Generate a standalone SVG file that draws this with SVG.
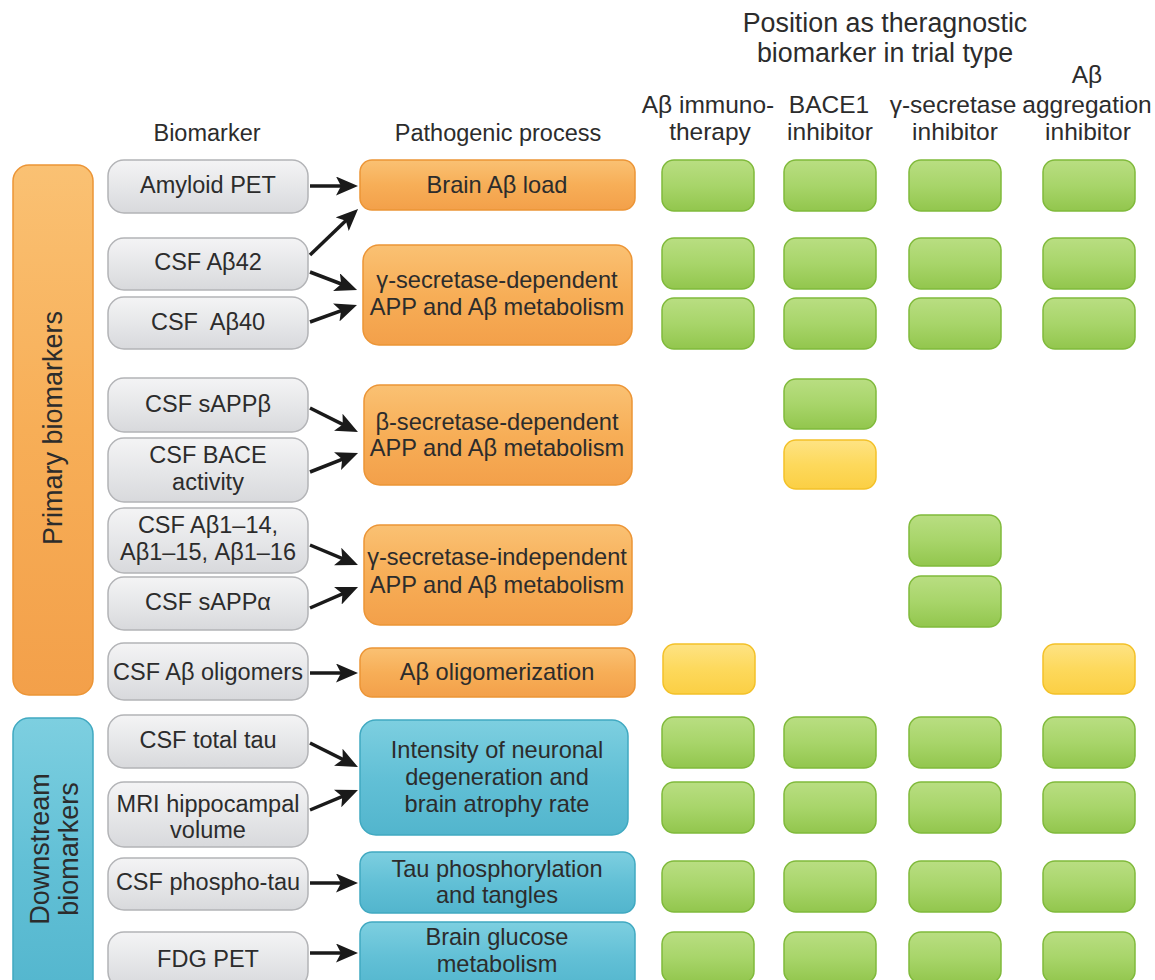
<svg xmlns="http://www.w3.org/2000/svg" width="1155" height="980" viewBox="0 0 1155 980">
<style>
text{font-family:"Liberation Sans",Arial,sans-serif;fill:#2c2c2c;text-anchor:middle;white-space:pre}
.hd{font-size:26.8px}
.ch{font-size:24.5px}
.bt{font-size:23.5px}
.pt{font-size:23.6px}
.side{font-size:27px}
.gray{fill:url(#gGray);stroke:#b3b4b7;stroke-width:1.5}
.orange{fill:url(#gOrange);stroke:#ec9536;stroke-width:1.5}
.blue{fill:url(#gBlue);stroke:#40a9c1;stroke-width:1.5}
.green{fill:url(#gGreen);stroke:#80ba3b;stroke-width:1.5}
.yellow{fill:url(#gYellow);stroke:#f3c128;stroke-width:1.5}
.arr{stroke:#1a1a1a;stroke-width:3.5;fill:none;marker-end:url(#ah)}
</style>
<defs>
<linearGradient id="gGray" x1="0" y1="0" x2="0" y2="1"><stop offset="0" stop-color="#f4f4f5"/><stop offset="0.5" stop-color="#e6e7e9"/><stop offset="1" stop-color="#d8d9dc"/></linearGradient>
<linearGradient id="gOrange" x1="0" y1="0" x2="0" y2="1"><stop offset="0" stop-color="#fac173"/><stop offset="0.5" stop-color="#f7ae57"/><stop offset="1" stop-color="#f3a04a"/></linearGradient>
<linearGradient id="gBlue" x1="0" y1="0" x2="0" y2="1"><stop offset="0" stop-color="#7dcfe0"/><stop offset="0.5" stop-color="#62c0d6"/><stop offset="1" stop-color="#52b5cd"/></linearGradient>
<linearGradient id="gGreen" x1="0" y1="0" x2="0" y2="1"><stop offset="0" stop-color="#b9de82"/><stop offset="0.5" stop-color="#a8d56a"/><stop offset="1" stop-color="#92c64d"/></linearGradient>
<linearGradient id="gYellow" x1="0" y1="0" x2="0" y2="1"><stop offset="0" stop-color="#fee384"/><stop offset="0.5" stop-color="#fdd95c"/><stop offset="1" stop-color="#fbcf44"/></linearGradient>
<marker id="ah" markerUnits="userSpaceOnUse" markerWidth="22" markerHeight="19" viewBox="0 0 22 19" refX="15" refY="9.5" orient="auto"><path d="M0,0 L22,9.5 L0,19 L5,9.5 z" fill="#1a1a1a"/></marker>
</defs>
<rect width="1155" height="980" fill="#fff"/>

<g id="headers">
<text class="hd" x="885" y="32">Position as theragnostic</text>
<text class="hd" x="885" y="62">biomarker in trial type</text>
<text class="ch" x="708" y="113">Aβ immuno-</text>
<text class="ch" x="710" y="140">therapy</text>
<text class="ch" x="829" y="113">BACE1</text>
<text class="ch" x="830" y="140">inhibitor</text>
<text class="ch" x="953" y="113">γ-secretase</text>
<text class="ch" x="955" y="140">inhibitor</text>
<text class="ch" x="1087" y="83">Aβ</text>
<text class="ch" x="1087" y="113">aggregation</text>
<text class="ch" x="1088" y="140">inhibitor</text>
<text class="bt" x="207" y="141">Biomarker</text>
<text class="bt" x="498" y="141">Pathogenic process</text>
</g>

<g id="primary-bar"><rect class="orange" x="13" y="165" width="80" height="530" rx="16"/>
<text class="side" transform="translate(62,428) rotate(-90)">Primary biomarkers</text></g>
<g id="downstream-bar"><rect class="blue" x="13" y="718" width="80" height="290" rx="16"/>
<text class="side" transform="translate(49,849) rotate(-90)">Downstream</text>
<text class="side" transform="translate(78,849) rotate(-90)">biomarkers</text></g>

<g id="b-amyloid-pet"><rect class="gray" x="108" y="160" width="200" height="53" rx="16"/><text class="bt" x="208" y="193">Amyloid PET</text></g>
<g id="b-ab42"><rect class="gray" x="108" y="238" width="200" height="52" rx="16"/><text class="bt" x="208" y="270">CSF Aβ42</text></g>
<g id="b-ab40"><rect class="gray" x="108" y="297" width="200" height="52" rx="16"/><text class="bt" x="208" y="330" xml:space="preserve">CSF  Aβ40</text></g>
<g id="b-sappb"><rect class="gray" x="108" y="378" width="200" height="54" rx="16"/><text class="bt" x="208" y="412">CSF sAPPβ</text></g>
<g id="b-bace"><rect class="gray" x="108" y="438" width="200" height="64" rx="16"/><text class="bt" x="208" y="463">CSF BACE</text><text class="bt" x="208" y="490">activity</text></g>
<g id="b-ab114"><rect class="gray" x="108" y="508" width="200" height="65" rx="16"/><text class="bt" x="208" y="533">CSF Aβ1–14,</text><text class="bt" x="208" y="560">Aβ1–15, Aβ1–16</text></g>
<g id="b-sappa"><rect class="gray" x="108" y="577" width="200" height="53" rx="16"/><text class="bt" x="208" y="610">CSF sAPPα</text></g>
<g id="b-olig"><rect class="gray" x="108" y="643" width="200" height="57" rx="16"/><text class="bt" x="208" y="680">CSF Aβ oligomers</text></g>
<g id="b-ttau"><rect class="gray" x="108" y="715" width="200" height="53" rx="16"/><text class="bt" x="208" y="748">CSF total tau</text></g>
<g id="b-mri"><rect class="gray" x="108" y="782" width="200" height="65" rx="16"/><text class="bt" x="208" y="812">MRI hippocampal</text><text class="bt" x="208" y="838">volume</text></g>
<g id="b-ptau"><rect class="gray" x="108" y="858" width="200" height="52" rx="16"/><text class="bt" x="208" y="890">CSF phospho-tau</text></g>
<g id="b-fdg"><rect class="gray" x="108" y="932" width="200" height="56" rx="16"/><text class="bt" x="208" y="967">FDG PET</text></g>

<g id="p-load"><rect class="orange" x="360" y="160" width="275" height="50" rx="12"/><text class="pt" x="497" y="193">Brain Aβ load</text></g>
<g id="p-gdep"><rect class="orange" x="363" y="245" width="269" height="100" rx="16"/><text class="pt" x="497" y="288">γ-secretase-dependent</text><text class="pt" x="497" y="315">APP and Aβ metabolism</text></g>
<g id="p-bdep"><rect class="orange" x="364" y="385" width="268" height="100" rx="16"/><text class="pt" x="497" y="430">β-secretase-dependent</text><text class="pt" x="497" y="456">APP and Aβ metabolism</text></g>
<g id="p-gind"><rect class="orange" x="364" y="525" width="268" height="100" rx="16"/><text class="pt" x="497" y="565">γ-secretase-independent</text><text class="pt" x="497" y="593">APP and Aβ metabolism</text></g>
<g id="p-olig"><rect class="orange" x="360" y="648" width="275" height="49" rx="12"/><text class="pt" x="497" y="680">Aβ oligomerization</text></g>
<g id="p-neuro"><rect class="blue" x="360" y="720" width="268" height="115" rx="16"/><text class="pt" x="497" y="758">Intensity of neuronal</text><text class="pt" x="497" y="785">degeneration and</text><text class="pt" x="497" y="812">brain atrophy rate</text></g>
<g id="p-tau"><rect class="blue" x="360" y="852" width="275" height="61" rx="12"/><text class="pt" x="497" y="877">Tau phosphorylation</text><text class="pt" x="497" y="903">and tangles</text></g>
<g id="p-glucose"><rect class="blue" x="360" y="922" width="275" height="70" rx="12"/><text class="pt" x="497" y="945">Brain glucose</text><text class="pt" x="497" y="972">metabolism</text></g>

<g id="cells">
<rect class="green" x="662" y="160" width="92" height="51" rx="12"/><rect class="green" x="784" y="160" width="92" height="51" rx="12"/><rect class="green" x="909" y="160" width="92" height="51" rx="12"/><rect class="green" x="1043" y="160" width="92" height="51" rx="12"/>
<rect class="green" x="662" y="238" width="92" height="51" rx="12"/><rect class="green" x="784" y="238" width="92" height="51" rx="12"/><rect class="green" x="909" y="238" width="92" height="51" rx="12"/><rect class="green" x="1043" y="238" width="92" height="51" rx="12"/>
<rect class="green" x="662" y="298" width="92" height="51" rx="12"/><rect class="green" x="784" y="298" width="92" height="51" rx="12"/><rect class="green" x="909" y="298" width="92" height="51" rx="12"/><rect class="green" x="1043" y="298" width="92" height="51" rx="12"/>
<rect class="green" x="784" y="379" width="92" height="50" rx="12"/>
<rect class="yellow" x="784" y="440" width="92" height="49" rx="12"/>
<rect class="green" x="909" y="515" width="92" height="51" rx="12"/>
<rect class="green" x="909" y="576" width="92" height="51" rx="12"/>
<rect class="yellow" x="663" y="644" width="92" height="50" rx="12"/><rect class="yellow" x="1043" y="644" width="92" height="50" rx="12"/>
<rect class="green" x="662" y="717" width="92" height="51" rx="12"/><rect class="green" x="784" y="717" width="92" height="51" rx="12"/><rect class="green" x="909" y="717" width="92" height="51" rx="12"/><rect class="green" x="1043" y="717" width="92" height="51" rx="12"/>
<rect class="green" x="662" y="782" width="92" height="51" rx="12"/><rect class="green" x="784" y="782" width="92" height="51" rx="12"/><rect class="green" x="909" y="782" width="92" height="51" rx="12"/><rect class="green" x="1043" y="782" width="92" height="51" rx="12"/>
<rect class="green" x="662" y="861" width="92" height="51" rx="12"/><rect class="green" x="784" y="861" width="92" height="51" rx="12"/><rect class="green" x="909" y="861" width="92" height="51" rx="12"/><rect class="green" x="1043" y="861" width="92" height="51" rx="12"/>
<rect class="green" x="662" y="932" width="92" height="51" rx="12"/><rect class="green" x="784" y="932" width="92" height="51" rx="12"/><rect class="green" x="909" y="932" width="92" height="51" rx="12"/><rect class="green" x="1043" y="932" width="92" height="51" rx="12"/>
</g>

<g id="connectors">
<line class="arr" x1="310" y1="186" x2="351" y2="186"/>
<line class="arr" x1="310" y1="255" x2="353" y2="213.8"/>
<line class="arr" x1="310" y1="272" x2="350.5" y2="287.5"/>
<line class="arr" x1="310" y1="322" x2="350.4" y2="307.4"/>
<line class="arr" x1="310" y1="408" x2="351.7" y2="428.9"/>
<line class="arr" x1="310" y1="472" x2="351.5" y2="455.6"/>
<line class="arr" x1="310" y1="545" x2="351.5" y2="562.3"/>
<line class="arr" x1="310" y1="608" x2="351.6" y2="589.8"/>
<line class="arr" x1="310" y1="673" x2="351" y2="673"/>
<line class="arr" x1="310" y1="743" x2="351.7" y2="763.9"/>
<line class="arr" x1="310" y1="810" x2="351.5" y2="792.7"/>
<line class="arr" x1="310" y1="883" x2="351" y2="883"/>
<line class="arr" x1="310" y1="953" x2="351" y2="953"/>
</g>
</svg>
